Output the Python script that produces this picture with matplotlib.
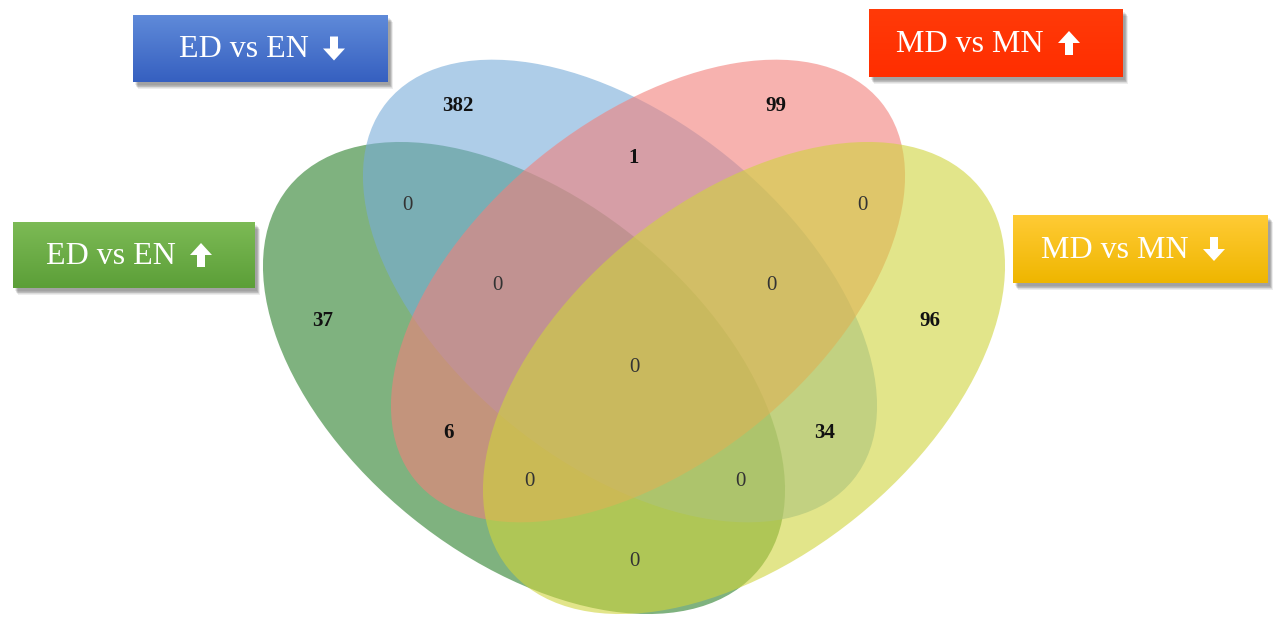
"""Four-set Venn diagram: ED vs EN / MD vs MN up- and down-regulated genes."""

import numpy as np
import matplotlib
matplotlib.use("Agg")
import matplotlib.pyplot as plt  # noqa: E402
from matplotlib.patches import Ellipse, Rectangle, FancyArrow  # noqa: E402

# set names (label boxes) and direction of regulation (+1 up, -1 down)
set_names = ["ED vs EN", "MD vs MN", "ED vs EN", "MD vs MN"]
set_dir = [-1, 1, 1, -1]

# region counts
region_names = ["blue", "pink", "blue&pink", "green&blue", "pink&yellow",
                "green&blue&pink", "blue&pink&yellow", "green", "yellow",
                "all", "green&pink", "blue&yellow", "green&pink&yellow",
                "green&blue&yellow", "green&yellow"]
region_counts = [382, 99, 1, 0, 0, 0, 0, 37, 96, 0, 6, 34, 0, 0, 0]

# label anchor for each region (pixel layout)
region_xy = [(458, 106), (776, 106), (634, 158), (407, 206), (862, 206),
             (497, 286), (771, 286), (323, 321), (930, 321), (634, 368),
             (448, 433), (825, 433), (529, 481), (740, 481), (634, 561)]

# ellipses: green, blue, pink, yellow (drawn in this order)
ell_center = [(524, 378), (620, 291), (648, 291), (744, 378)]
ell_size = [(606, 358), (600, 344), (600, 344), (606, 358)]
ell_angle = [39, 39, -39, -39]
ell_color = ["#2a7f2a", "#78acd9", "#f2807b", "#d0d43c"]
ell_alpha = 0.6

# label boxes: (x0, y0, x1, y1), top colour, bottom colour
box_rect = [(133, 15, 388, 82), (869, 9, 1123, 77),
            (13, 222, 255, 288), (1013, 215, 1268, 283)]
box_top = ["#5f8ad9", "#ff3a08", "#7cba55", "#ffcb35"]
box_bot = ["#3660c0", "#ff2e00", "#5c9f38", "#efb600"]

fig = plt.figure(figsize=(12.75, 6.17), dpi=100)
ax = fig.add_axes([0, 0, 1, 1])
ax.set_xlim(0, 1275)
ax.set_ylim(617, 0)
ax.axis("off")

for c, s, a, col in zip(ell_center, ell_size, ell_angle, ell_color):
    ax.add_patch(Ellipse(c, s[0], s[1], angle=a, facecolor=col,
                         edgecolor="none", alpha=ell_alpha, zorder=1))

for n, xy in zip(region_counts, region_xy):
    bold = n != 0
    ax.text(xy[0], xy[1], str(n), ha="center", va="center",
            family="Liberation Serif", fontsize=15,
            fontweight="bold" if bold else "normal",
            color="#111111" if bold else "#333333", zorder=5)


def hex_rgb(h):
    return np.array(matplotlib.colors.to_rgb(h))


for (x0, y0, x1, y1), ct, cb, name, d in zip(box_rect, box_top, box_bot,
                                              set_names, set_dir):
    # soft drop shadow
    for k in range(6):
        ax.add_patch(Rectangle((x0 + 2 + k * 0.6, y0 + 3 + k * 0.8),
                               x1 - x0, y1 - y0, facecolor="#000000",
                               edgecolor="none", alpha=0.07, zorder=6))
    t = np.linspace(0, 1, 64)[:, None]
    grad = (1 - t)[:, :, None] * hex_rgb(ct) + t[:, :, None] * hex_rgb(cb)
    ax.imshow(grad, extent=(x0, x1, y1, y0), aspect="auto", zorder=7,
              interpolation="bilinear")
    cy = (y0 + y1) / 2
    ax_x = x1 - 54
    ax.text(ax_x - 25, cy + 1, name, ha="right", va="center",
            family="Liberation Serif", fontsize=23, color="white", zorder=8)
    # bold block arrow (up or down); y axis is inverted so "up" is -y
    ax.add_patch(FancyArrow(ax_x, cy + 12 * d, 0, -24 * d, width=8,
                            head_width=22, head_length=12,
                            length_includes_head=True, facecolor="white",
                            edgecolor="none", zorder=8))

ax.set_xlim(0, 1275)
ax.set_ylim(617, 0)
fig.savefig("out.png", dpi=100)
